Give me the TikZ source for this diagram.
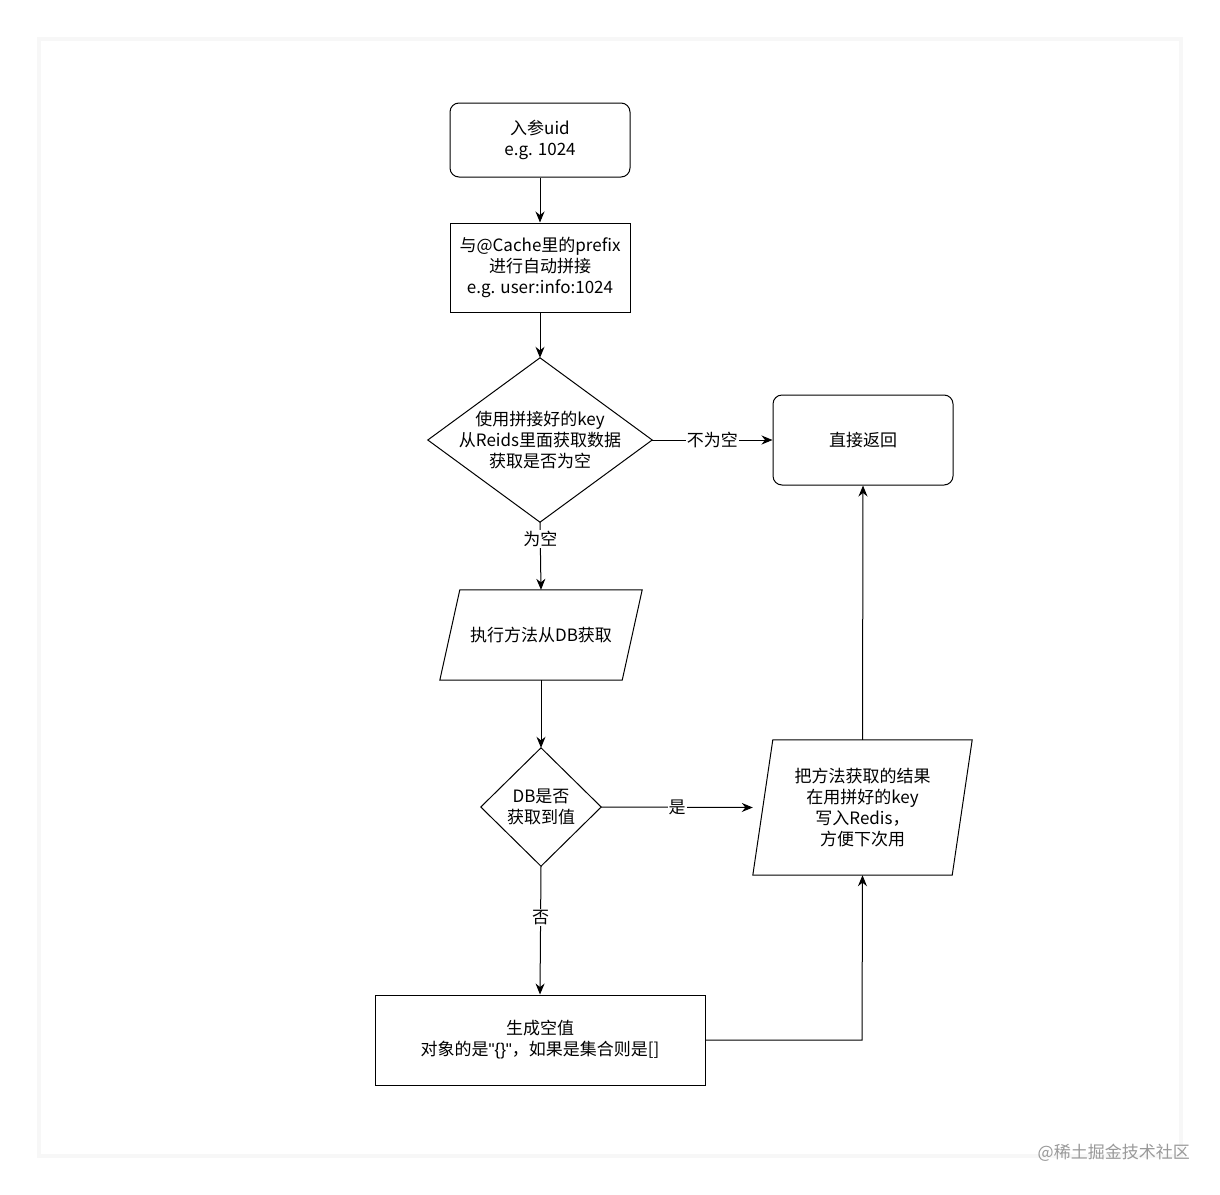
\documentclass[tikz,border=0pt]{standalone}
\usepackage{fontspec}
\setmainfont{Noto Sans CJK SC}
\newfontfamily\latf{Liberation Sans}
\usetikzlibrary{shapes.geometric,arrows.meta}
\begin{document}
\begin{tikzpicture}[x=1pt,y=-1pt,
  every node/.style={font=\fontsize{17}{21}\selectfont, align=center, inner sep=0pt},
  box/.style={draw, line width=1pt, minimum width=180pt, minimum height=#1},
  rbox/.style={box=#1, rounded corners=9pt},
  lbl/.style={fill=white, inner sep=1pt},
  arr/.style={line width=1pt, -{Stealth[length=11pt,width=9pt]}}]
\useasboundingbox (0,0) rectangle (1220,1194);
\fill[black!3] (37,37) rectangle (1183,1158);
\fill[white] (41,41) rectangle (1179,1154);
\node[rbox=74pt] (a) at (540,140) {入参uid\\e.g. 1024};
\node[box=89pt] (b) at (540,267.5) {与@Cache里的prefix\\进行自动拼接\\e.g. user:info:1024};
\node[draw=none, minimum width=224pt, minimum height=164pt] (c) at (540,440) {使用拼接好的key\\从Reids里面获取数据\\获取是否为空};
\draw[line width=1pt] (c.north) -- (c.east) -- (c.south) -- (c.west) -- cycle;
\node[rbox=90pt] (d) at (863,440) {直接返回};
\node[minimum width=202pt, minimum height=90pt] (e) at (541,635) {执行方法从DB获取};
\draw[line width=1pt] ([xshift=20pt]e.north west) -- (e.north east) -- ([xshift=-20pt]e.south east) -- (e.south west) -- cycle;
\node[minimum width=120pt, minimum height=118pt] (f) at (541,807) {DB是否\\获取到值};
\draw[line width=1pt] (f.north) -- (f.east) -- (f.south) -- (f.west) -- cycle;
\node[minimum width=219pt, minimum height=135pt] (g) at (862.5,807.5) {把方法获取的结果\\在用拼好的key\\写入Redis，\\方便下次用};
\draw[line width=1pt] ([xshift=20pt]g.north west) -- (g.north east) -- ([xshift=-20pt]g.south east) -- (g.south west) -- cycle;
\node[box=90pt, minimum width=330pt] (h) at (540,1040) {生成空值\\对象的是{\latf"\{\}"}，如果是集合则是[]};
\coordinate (hc) at (862,1040);
\draw[arr] (a) -- (b);
\draw[arr] (b) -- (c.north);
\draw[arr] (c.east) -- node[lbl]{不为空} (d);
\draw[arr] (c.south) -- node[lbl, pos=0.25]{为空} (e.north);
\draw[arr] (e.south) -- (f.north);
\draw[arr] (f.east) -- node[lbl]{是} (g.west);
\draw[arr] (f.south) -- node[lbl, pos=0.4]{否} (h.north);
\draw[arr] (h.east) -- (hc) -- (g.south);
\draw[arr] (g.north) -- (d.south);
\node[font=\fontsize{17}{20}\selectfont, text=black!40, anchor=east] (w) at (1190,1153) {@稀土掘金技术社区};
\end{tikzpicture}
\end{document}
